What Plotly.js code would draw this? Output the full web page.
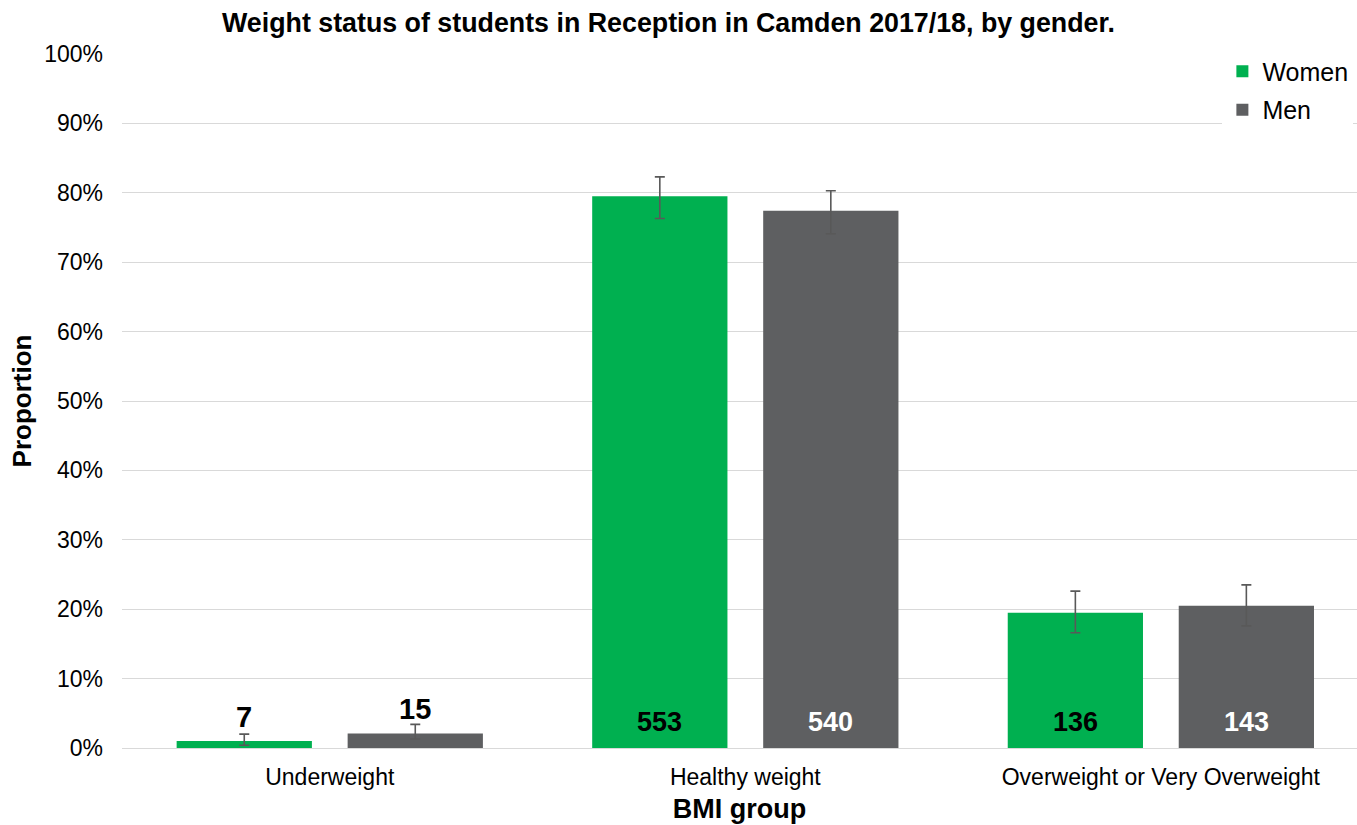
<!DOCTYPE html>
<html>
<head>
<meta charset="utf-8">
<script src="https://cdn.plot.ly/plotly-3.0.1.min.js"></script>
<style>html,body{margin:0;padding:0;background:#fff;}#chart{width:1357px;height:825px;}</style>
</head>
<body>
<div id="chart"></div>
<script>
// Data
var categories = ['Underweight', 'Healthy weight', 'Overweight or Very Overweight'];
var womenPct   = [1.0, 79.5, 19.5];
var womenUpper = [2.0, 82.3, 22.6];
var womenLower = [0.4, 76.3, 16.6];
var womenCount = [7, 553, 136];
var menPct     = [2.1, 77.4, 20.5];
var menUpper   = [3.4, 80.3, 23.5];
var menLower   = [1.3, 74.1, 17.6];
var menCount   = [15, 540, 143];

var FONT = 'Liberation Sans, Arial, sans-serif';
var GREEN = '#00B050';
var GREY = '#5E5F61';
var ERR = '#595959';

function plus(v, u) { return v.map(function (x, i) { return u[i] - x; }); }
function minus(v, l) { return v.map(function (x, i) { return x - l[i]; }); }

var traces = [
  {
    type: 'bar', name: 'Women', x: categories, y: womenPct,
    marker: {color: GREEN}, legendgroup: 'w',
    error_y: {type: 'data', symmetric: false, array: plus(womenPct, womenUpper),
              arrayminus: minus(womenPct, womenLower), color: ERR, thickness: 1.6, width: 5},
    hoverinfo: 'none'
  },
  {
    type: 'bar', name: 'Men', x: categories, y: menPct,
    marker: {color: GREY}, legendgroup: 'm',
    error_y: {type: 'data', symmetric: false, array: plus(menPct, menUpper),
              arrayminus: minus(menPct, menLower), color: ERR, thickness: 1.6, width: 5},
    hoverinfo: 'none'
  }
];

// count labels
var annotations = [];
var series = [
  {pct: womenPct, cnt: womenCount, shift: -85.5, inColor: '#000000'},
  {pct: menPct, cnt: menCount, shift: 85.5, inColor: '#FFFFFF'}
];
series.forEach(function (s) {
  categories.forEach(function (c, i) {
    var small = s.pct[i] < 5;
    annotations.push({
      xref: 'x', yref: 'y', x: c, y: small ? s.pct[i] : 0,
      xshift: s.shift, yshift: small ? 6 : 9,
      yanchor: 'bottom', showarrow: false,
      text: '<b>' + s.cnt[i] + '</b>',
      font: {family: FONT, size: small ? 29 : 27, color: small ? '#000000' : s.inColor}
    });
  });
});

var layout = {
  width: 1357, height: 825,
  margin: {l: 122, r: 0, t: 54, b: 77, pad: 0},
  paper_bgcolor: '#FFFFFF', plot_bgcolor: '#FFFFFF',
  font: {family: FONT, size: 22, color: '#000000'},
  title: {text: '<b>Weight status of students in Reception in Camden 2017/18, by gender.</b>',
          font: {family: FONT, size: 26.8, color: '#000000'},
          x: 0.4926, xanchor: 'center', y: 0.973, yanchor: 'middle', xref: 'container'},
  barmode: 'group', bargap: 0.177, bargroupgap: 0.209,
  xaxis: {
    type: 'category', range: [-0.5, 2.472], fixedrange: true,
    showgrid: false, showline: true, linecolor: '#D9D9D9', linewidth: 1,
    ticks: '', tickfont: {family: FONT, size: 23, color: '#000000'},
    ticklabelstandoff: 8,
    title: {text: '<b>BMI group</b>', font: {family: FONT, size: 27, color: '#000000'}, standoff: 10}
  },
  yaxis: {
    range: [0, 100], dtick: 10, ticksuffix: '%', fixedrange: true,
    showgrid: true, gridcolor: '#D9D9D9', gridwidth: 1,
    zeroline: true, zerolinecolor: '#D9D9D9', zerolinewidth: 1,
    showline: false, ticks: '', ticklabelstandoff: 18,
    tickfont: {family: FONT, size: 23, color: '#000000'},
    title: {text: '<b>Proportion</b>', font: {family: FONT, size: 26, color: '#000000'}, standoff: 5}
  },
  legend: {
    x: 0.891, xanchor: 'left', y: 1.008, yanchor: 'top',
    bgcolor: '#FFFFFF', borderwidth: 0, tracegroupgap: 3,
    font: {family: FONT, size: 25, color: '#000000'}
  },
  annotations: annotations,
  showlegend: true
};

Plotly.newPlot('chart', traces, layout, {displayModeBar: false, staticPlot: true});
</script>
</body>
</html>
